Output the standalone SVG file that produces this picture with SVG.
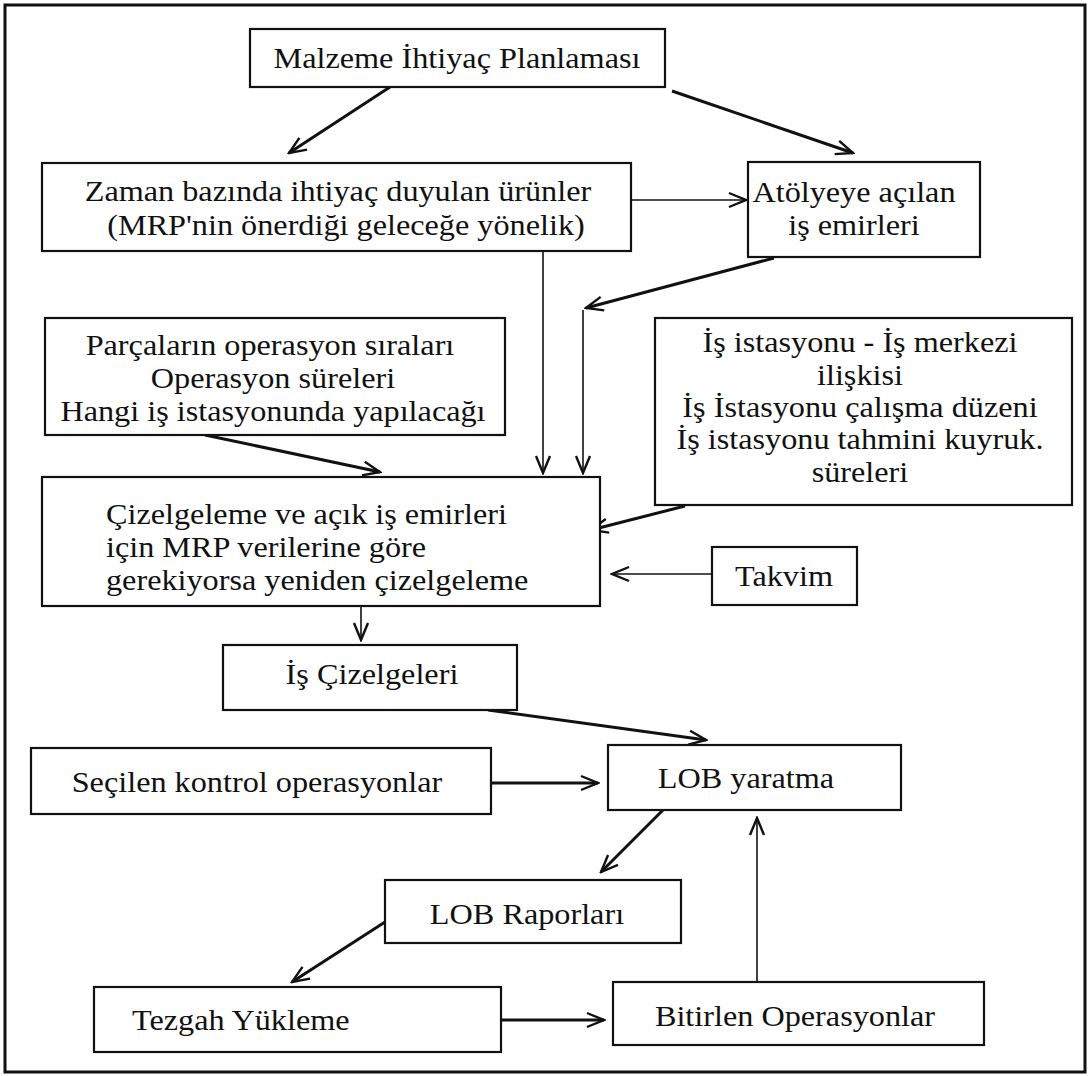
<svg xmlns="http://www.w3.org/2000/svg" width="1089" height="1076" viewBox="0 0 1089 1076">
  <style>
    .box { fill: #fff; stroke: #111; stroke-width: 2.2; }
    .t { font-family: "Liberation Serif", "Times New Roman", serif; font-size: 30px; fill: #111;
         transform-box: fill-box; transform-origin: center; transform: scaleX(1.075); }
    .c { text-anchor: middle; }
    .l { text-anchor: start; transform-origin: left center; }
    .w { fill: none; stroke: #111; stroke-width: 3; marker-end: url(#v); }
    .n { fill: none; stroke: #111; stroke-width: 1.6; marker-end: url(#v); }
  </style>
  <defs>
    <marker id="v" viewBox="0 0 20 18" refX="18" refY="9" markerWidth="20" markerHeight="18" markerUnits="userSpaceOnUse" orient="auto">
      <path d="M1,2 L18,9 L1,16" fill="none" stroke="#111" stroke-width="2.4"/>
    </marker>
  </defs>

  <rect width="1089" height="1076" fill="#fff"/>
  <!-- outer frame -->
  <rect x="5" y="5" width="1080" height="1067" fill="none" stroke="#111" stroke-width="3"/>

  <g id="connectors">
    <path class="w" d="M390,87 L289,153"/>
    <path class="w" d="M672,91 L853,153"/>
    <path class="n" d="M631,200 L746,200"/>
    <path class="n" d="M543,251 L543,473"/>
    <path class="w" d="M774,258 L586,308"/>
    <path class="n" d="M583,310 L583,473"/>
    <path class="w" d="M205,435 L380,472"/>
    <path class="w" d="M685,506 L591,530"/>
    <path class="n" d="M712,574 L612,574"/>
    <path class="n" d="M361,606 L361,640"/>
    <path class="w" d="M488,710 L706,740"/>
    <path class="w" d="M491,783 L598,783"/>
    <path class="w" d="M663,810 L601,872"/>
    <path class="w" d="M385,922 L292,982"/>
    <path class="w" d="M501,1020 L604,1020"/>
    <path class="n" d="M757,982 L757,818"/>
  </g>

  <g id="mrp">
    <rect class="box" x="250" y="29" width="415" height="58"/>
    <text class="t c" x="457" y="68">Malzeme İhtiyaç Planlaması</text>
  </g>

  <g id="zaman">
    <rect class="box" x="42" y="163" width="589" height="88"/>
    <text class="t c" x="338" y="201">Zaman bazında ihtiyaç duyulan ürünler</text>
    <text class="t c" x="346" y="235">(MRP'nin önerdiği geleceğe yönelik)</text>
  </g>

  <g id="atolye">
    <rect class="box" x="748" y="162" width="232" height="95"/>
    <text class="t c" x="854" y="202">Atölyeye açılan</text>
    <text class="t c" x="854" y="235">iş emirleri</text>
  </g>

  <g id="parcalar">
    <rect class="box" x="45" y="318" width="460" height="117"/>
    <text class="t c" x="270" y="355">Parçaların operasyon sıraları</text>
    <text class="t c" x="273" y="388">Operasyon süreleri</text>
    <text class="t c" x="273" y="421">Hangi iş istasyonunda yapılacağı</text>
  </g>

  <g id="istasyon">
    <rect class="box" x="655" y="318" width="417" height="187"/>
    <text class="t c" x="860" y="352">İş istasyonu - İş merkezi</text>
    <text class="t c" x="860" y="385">ilişkisi</text>
    <text class="t c" x="860" y="417">İş İstasyonu çalışma düzeni</text>
    <text class="t c" x="860" y="449">İş istasyonu tahmini kuyruk.</text>
    <text class="t c" x="860" y="482">süreleri</text>
  </g>

  <g id="cizelgeleme">
    <rect class="box" x="42" y="477" width="558" height="129"/>
    <text class="t l" x="106" y="524">Çizelgeleme ve açık iş emirleri</text>
    <text class="t l" x="106" y="557">için MRP verilerine göre</text>
    <text class="t l" x="106" y="590">gerekiyorsa yeniden çizelgeleme</text>
  </g>

  <g id="takvim">
    <rect class="box" x="712" y="547" width="145" height="58"/>
    <text class="t c" x="784" y="586">Takvim</text>
  </g>

  <g id="is-cizelgeleri">
    <rect class="box" x="223" y="645" width="294" height="65"/>
    <text class="t c" x="372" y="684">İş Çizelgeleri</text>
  </g>

  <g id="secilen">
    <rect class="box" x="31" y="748" width="460" height="66"/>
    <text class="t c" x="257" y="792">Seçilen kontrol operasyonlar</text>
  </g>

  <g id="lob-yaratma">
    <rect class="box" x="608" y="745" width="293" height="65"/>
    <text class="t c" x="746" y="788">LOB yaratma</text>
  </g>

  <g id="lob-raporlari">
    <rect class="box" x="385" y="880" width="296" height="63"/>
    <text class="t c" x="527" y="924">LOB Raporları</text>
  </g>

  <g id="tezgah">
    <rect class="box" x="94" y="987" width="407" height="65"/>
    <text class="t l" x="132" y="1030">Tezgah Yükleme</text>
  </g>

  <g id="bitirlen">
    <rect class="box" x="613" y="982" width="371" height="63"/>
    <text class="t c" x="795" y="1026">Bitirlen Operasyonlar</text>
  </g>
</svg>
